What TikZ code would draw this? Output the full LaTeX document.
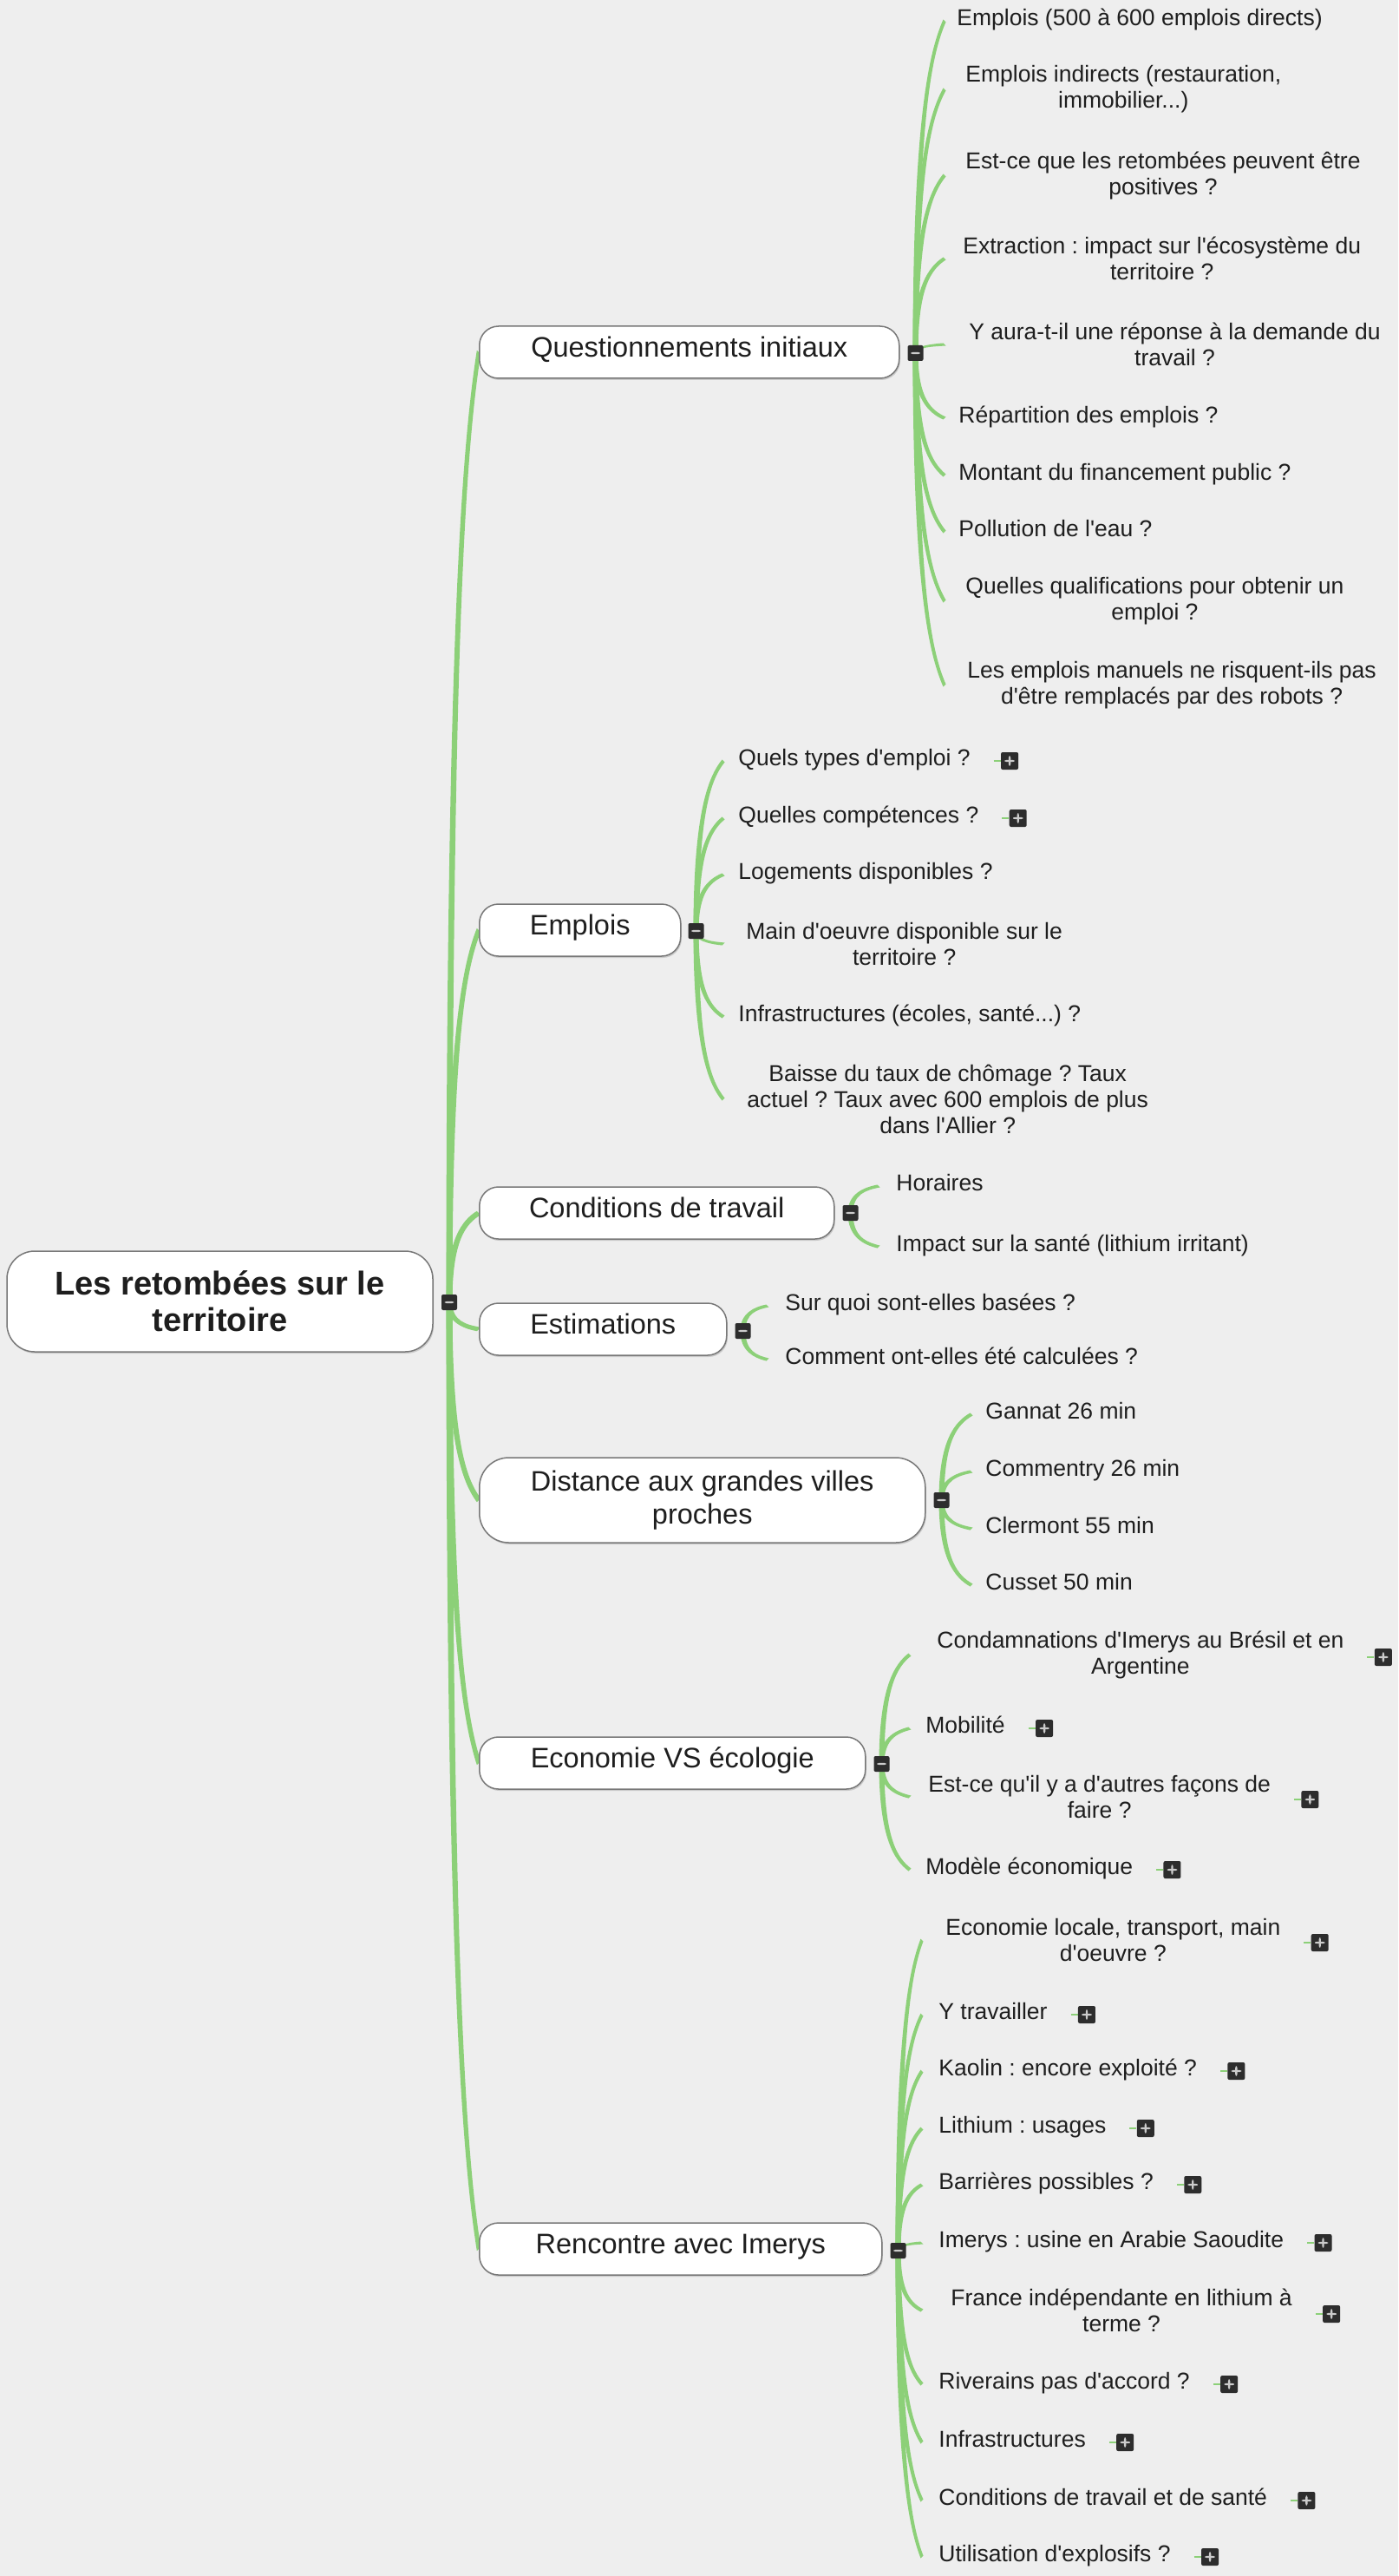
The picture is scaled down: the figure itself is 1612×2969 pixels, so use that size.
\documentclass[tikz,border=0pt]{standalone}
\usepackage{fontspec}
\setmainfont{Liberation Sans}
\usetikzlibrary{calc,shadows}
\font\fsub="Liberation Sans" at 13.25pt
\font\ftop="Liberation Sans" at 16.25pt
\font\froot="Liberation Sans/B" at 19pt
\frenchspacing
\definecolor{bgc}{RGB}{238,238,238}
\definecolor{brc}{RGB}{140,208,120}
\definecolor{txc}{RGB}{30,30,30}
\definecolor{btc}{RGB}{45,45,45}
\definecolor{bdc}{RGB}{120,120,120}
\pgfdeclarelayer{back}
\pgfdeclarelayer{conn}
\pgfsetlayers{back,conn,main}
% tapered branch: #1 parent, #2 x-reference of end, #3 child anchor, #4 half width at parent, #5 half width at child
\newcommand\brU[5]{\fill[brc] ($(#1)+(-#4,0)$)
  .. controls ($(#1)!0.7!(#1 |- #3) + (-#4,0)$) and ($(#2 |- #3)!0.5!(#1 |- #3) + 0.1*(#1) - 0.1*(#1 |- #3) + (-#5,-#5)$)
  .. ($(#2 |- #3)+(-#5,-#5)$) -- ($(#2 |- #3)+(#5,#5)$)
  .. controls ($(#2 |- #3)!0.5!(#1 |- #3) + 0.1*(#1) - 0.1*(#1 |- #3) + (#5,#5)$) and ($(#1)!0.7!(#1 |- #3) + (#4,0)$)
  .. ($(#1)+(#4,0)$) -- cycle;}
\newcommand\brD[5]{\fill[brc] ($(#1)+(-#4,0)$)
  .. controls ($(#1)!0.7!(#1 |- #3) + (-#4,0)$) and ($(#2 |- #3)!0.5!(#1 |- #3) + 0.1*(#1) - 0.1*(#1 |- #3) + (-#5,#5)$)
  .. ($(#2 |- #3)+(-#5,#5)$) -- ($(#2 |- #3)+(#5,-#5)$)
  .. controls ($(#2 |- #3)!0.5!(#1 |- #3) + 0.1*(#1) - 0.1*(#1 |- #3) + (#5,-#5)$) and ($(#1)!0.7!(#1 |- #3) + (#4,0)$)
  .. ($(#1)+(#4,0)$) -- cycle;}
\newcommand\addplus[3]{\node[plusb] (#1) at ($(#2.east)+(45,#3)$) {};
  \begin{pgfonlayer}{conn}\draw[brc, line width=1.1pt] ($(#1.west)+(-8,0)$) -- (#1.west);\end{pgfonlayer}}
\begin{document}
\begin{tikzpicture}[x=0.5pt,y=-0.5pt,
  every node/.style={text=txc},
  sh/.style={drop shadow={shadow xshift=0.6pt, shadow yshift=-1pt, fill=black, opacity=0.15}},
  rootbox/.style={draw=bdc, line width=0.75pt, fill=white, rounded corners=16pt, align=center,
    font={\froot\baselineskip=21pt\relax}, minimum width=245.5pt, minimum height=58pt, sh},
  topicbase/.style={draw=bdc, line width=0.75pt, fill=white, align=center, anchor=west,
    font={\ftop\baselineskip=19pt\relax}, inner xsep=0pt, sh},
  topic/.style={topicbase, rounded corners=11pt, minimum height=30pt, text height=0.74em, text depth=0.22em},
  topicB/.style={topicbase, rounded corners=17pt, minimum height=49pt},
  sub/.style={anchor=west, inner xsep=0pt, inner ysep=1pt, font=\fsub, text height=0.72em, text depth=0.2em},
  subm/.style={anchor=west, inner xsep=0pt, inner ysep=1pt, font={\fsub\baselineskip=15pt\relax}, align=center},
  minusb/.style={fill=btc, minimum width=9pt, minimum height=9pt, inner sep=0pt, rounded corners=1pt,
    path picture={\fill[white!80!black] ([xshift=-2.6pt,yshift=-0.55pt]path picture bounding box.center) rectangle ([xshift=2.6pt,yshift=0.55pt]path picture bounding box.center);}},
  plusb/.style={fill=btc, minimum width=10pt, minimum height=10pt, inner sep=0pt, rounded corners=1pt,
    path picture={\fill[white!80!black] ([xshift=-2.8pt,yshift=-0.6pt]path picture bounding box.center) rectangle ([xshift=2.8pt,yshift=0.6pt]path picture bounding box.center);
    \fill[white!80!black] ([xshift=-0.6pt,yshift=-2.8pt]path picture bounding box.center) rectangle ([xshift=0.6pt,yshift=2.8pt]path picture bounding box.center);}}
]
\begin{pgfonlayer}{back}
\fill[bgc] (0,0) rectangle (1612,2969);
\end{pgfonlayer}
\useasboundingbox (0,0) rectangle (1612,2969);

% root
\node[rootbox] (root) at (253.5,1500) {Les retombées sur le\\territoire};
\node[minusb] (rb) at (518,1501) {};

% level 1
\node[topic, minimum width=242pt] (q) at (552,406) {Questionnements initiaux};
\node[minusb] (bq) at ($(q.east)+(18,1)$) {};
\node[topic, minimum width=116pt] (e) at (552,1072) {Emplois};
\node[minusb] (be) at ($(e.east)+(17,1)$) {};
\node[topic, minimum width=204.5pt] (c) at (552,1398) {Conditions de travail};
\node[minusb] (bc) at ($(c.east)+(18,0)$) {};
\node[topic, minimum width=142.5pt] (es) at (552,1532) {Estimations};
\node[minusb] (bes) at ($(es.east)+(18,2)$) {};
\node[topicB, minimum width=257pt] (d) at (552,1729) {Distance aux grandes villes\\proches};
\node[minusb] (bd) at ($(d.east)+(18,0)$) {};
\node[topic, minimum width=222.5pt] (ec) at (552,2032) {Economie VS écologie};
\node[minusb] (bec) at ($(ec.east)+(18,1)$) {};
\node[topic, minimum width=232pt] (r) at (552,2592) {Rencontre avec Imerys};
\node[minusb] (br) at ($(r.east)+(18,2)$) {};

% end x references
\coordinate (xq) at (1089,0);
\coordinate (xe) at (834,0);
\coordinate (xc) at (1013,0);
\coordinate (xes) at (885,0);
\coordinate (xd) at (1120,0);
\coordinate (xec) at (1049,0);
\coordinate (xr) at (1063,0);

% Questionnements initiaux
\node[sub]  (q1)  at (1103,24)  {Emplois (500 à 600 emplois directs)};
\node[subm] (q2)  at (1113,103) {Emplois indirects (restauration,\\immobilier...)};
\node[subm] (q3)  at (1113,202) {Est-ce que les retombées peuvent être\\positives ?};
\node[subm] (q4)  at (1110,298) {Extraction : impact sur l'écosystème du\\territoire ?};
\node[subm] (q5)  at (1117,397) {Y aura-t-il une réponse à la demande du\\travail ?};
\node[sub]  (q6)  at (1105,482) {Répartition des emplois ?};
\node[sub]  (q7)  at (1105,548) {Montant du financement public ?};
\node[sub]  (q8)  at (1105,613) {Pollution de l'eau ?};
\node[subm] (q9)  at (1113,693) {Quelles qualifications pour obtenir un\\emploi ?};
\node[subm] (q10) at (1115,790) {Les emplois manuels ne risquent-ils pas\\d'être remplacés par des robots ?};

% Emplois
\node[sub]  (e1) at (851,877)  {Quels types d'emploi ?};
\addplus{pe1}{e1}{0}
\node[sub]  (e2) at (851,943)  {Quelles compétences ?};
\addplus{pe2}{e2}{0}
\node[sub]  (e3) at (851,1008) {Logements disponibles ?};
\node[subm] (e4) at (860,1088) {Main d'oeuvre disponible sur le\\territoire ?};
\node[sub]  (e5) at (851,1172) {Infrastructures (écoles, santé...) ?};
\node[subm] (e6) at (861,1267) {Baisse du taux de chômage ? Taux\\actuel ? Taux avec 600 emplois de plus\\dans l'Allier ?};

% Conditions de travail
\node[sub] (c1) at (1033,1367) {Horaires};
\node[sub] (c2) at (1033,1437) {Impact sur la santé (lithium irritant)};

% Estimations
\node[sub] (es1) at (905,1505) {Sur quoi sont-elles basées ?};
\node[sub] (es2) at (905,1567) {Comment ont-elles été calculées ?};

% Distance
\node[sub] (d1) at (1136,1630) {Gannat 26 min};
\node[sub] (d2) at (1136,1696) {Commentry 26 min};
\node[sub] (d3) at (1136,1762) {Clermont 55 min};
\node[sub] (d4) at (1136,1827) {Cusset 50 min};

% Economie VS ecologie
\node[subm] (ec1) at (1080,1907) {Condamnations d'Imerys au Brésil et en\\Argentine};
\addplus{pec1}{ec1}{3}
\node[sub]  (ec2) at (1067,1992) {Mobilité};
\addplus{pec2}{ec2}{0}
\node[subm] (ec3) at (1070,2071) {Est-ce qu'il y a d'autres façons de\\faire ?};
\addplus{pec3}{ec3}{3}
\node[sub]  (ec4) at (1067,2155) {Modèle économique};
\addplus{pec4}{ec4}{0}

% Rencontre avec Imerys
\node[subm] (r1)  at (1090,2236) {Economie locale, transport, main\\d'oeuvre ?};
\addplus{pr1}{r1}{3}
\node[sub]  (r2)  at (1082,2322) {Y travailler};
\addplus{pr2}{r2}{0}
\node[sub]  (r3)  at (1082,2387) {Kaolin : encore exploité ?};
\addplus{pr3}{r3}{0}
\node[sub]  (r4)  at (1082,2453) {Lithium : usages};
\addplus{pr4}{r4}{0}
\node[sub]  (r5)  at (1082,2518) {Barrières possibles ?};
\addplus{pr5}{r5}{0}
\node[sub]  (r6)  at (1082,2585) {Imerys : usine en Arabie Saoudite};
\addplus{pr6}{r6}{0}
\node[subm] (r7)  at (1096,2663) {France indépendante en lithium à\\terme ?};
\addplus{pr7}{r7}{4}
\node[sub]  (r8)  at (1082,2748) {Riverains pas d'accord ?};
\addplus{pr8}{r8}{0}
\node[sub]  (r9)  at (1082,2815) {Infrastructures};
\addplus{pr9}{r9}{0}
\node[sub]  (r10) at (1082,2882) {Conditions de travail et de santé};
\addplus{pr10}{r10}{0}
\node[sub]  (r11) at (1082,2947) {Utilisation d'explosifs ?};
\addplus{pr11}{r11}{0}

% connectors
\begin{pgfonlayer}{conn}
\brU{rb}{q.west}{q.west}{3.5}{2.2}
\brU{rb}{e.west}{e.west}{3.5}{2.2}
\brU{rb}{c.west}{c.west}{3.5}{2.2}
\brD{rb}{es.west}{es.west}{3.5}{2.2}
\brD{rb}{d.west}{d.west}{3.5}{2.2}
\brD{rb}{ec.west}{ec.west}{3.5}{2.2}
\brD{rb}{r.west}{r.west}{3.5}{2.2}

\foreach \n in {q1,q2,q3,q4,q5} {\brU{bq}{xq}{\n.west}{3}{1.5}}
\foreach \n in {q6,q7,q8,q9,q10} {\brD{bq}{xq}{\n.west}{3}{1.5}}

\foreach \n in {e1,e2,e3} {\brU{be}{xe}{\n.west}{3}{1.5}}
\foreach \n in {e4,e5,e6} {\brD{be}{xe}{\n.west}{3}{1.5}}

\brU{bc}{xc}{c1.west}{3}{1.5}
\brD{bc}{xc}{c2.west}{3}{1.5}

\brU{bes}{xes}{es1.west}{3}{1.5}
\brD{bes}{xes}{es2.west}{3}{1.5}

\foreach \n in {d1,d2} {\brU{bd}{xd}{\n.west}{3}{1.5}}
\foreach \n in {d3,d4} {\brD{bd}{xd}{\n.west}{3}{1.5}}

\foreach \n in {ec1,ec2} {\brU{bec}{xec}{\n.west}{3}{1.5}}
\foreach \n in {ec3,ec4} {\brD{bec}{xec}{\n.west}{3}{1.5}}

\foreach \n in {r1,r2,r3,r4,r5,r6} {\brU{br}{xr}{\n.west}{3}{1.5}}
\foreach \n in {r7,r8,r9,r10,r11} {\brD{br}{xr}{\n.west}{3}{1.5}}
\end{pgfonlayer}
\end{tikzpicture}
\end{document}
